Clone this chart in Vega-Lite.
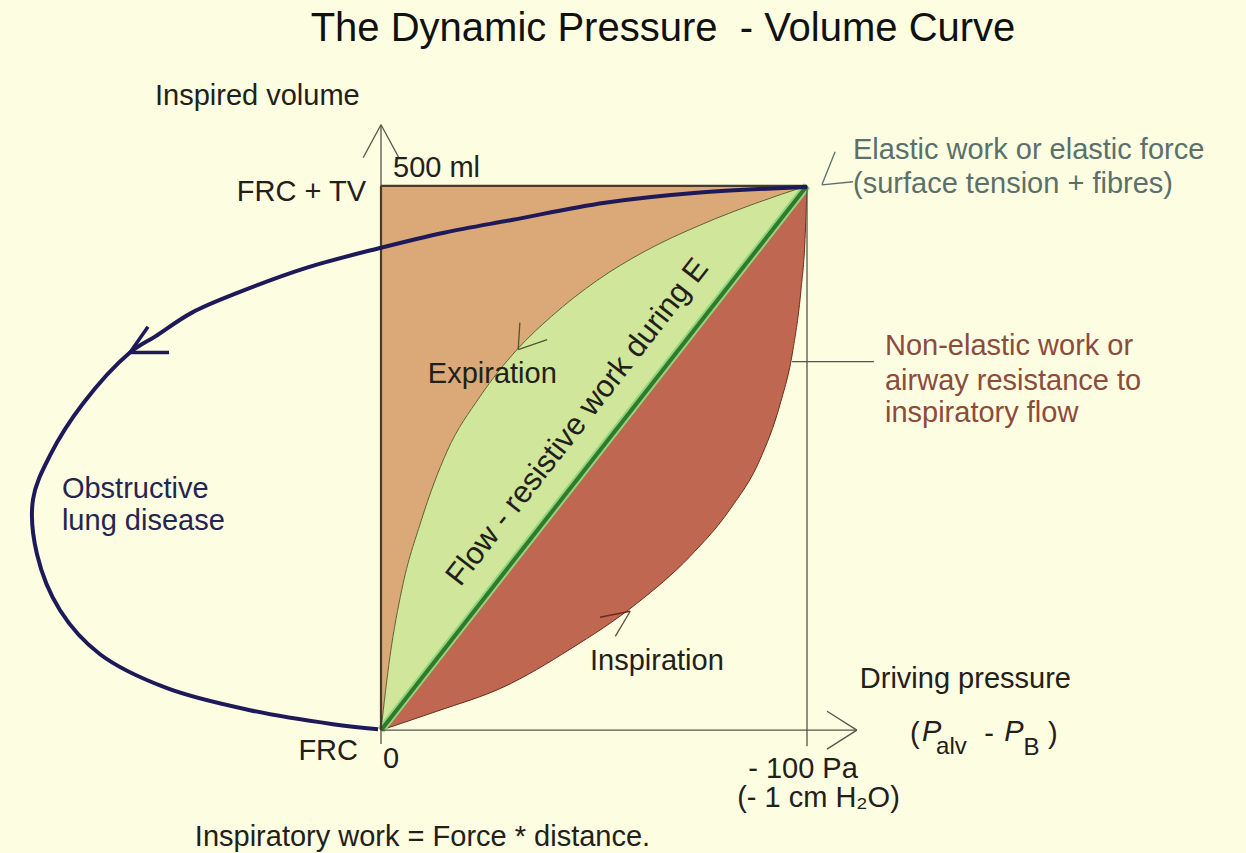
{
  "$schema": "https://vega.github.io/schema/vega-lite/v6.json",
  "width": 1246,
  "height": 853,
  "autosize": {"type": "fit", "contains": "padding"},
  "padding": 0,
  "background": "#FDFDE1",
  "config": {"view": {"stroke": null}, "text": {"font": "Liberation Sans"}},
  "datasets": {
    "exp": [
      {"x": 0, "y": 0, "d": 0},
      {"x": 2.11, "y": 67.9, "d": 10.55},
      {"x": 4.9, "y": 129.4, "d": 24.5},
      {"x": 9.4, "y": 192.0, "d": 47.0},
      {"x": 15.49, "y": 256.0, "d": 77.45},
      {"x": 23.24, "y": 306.4, "d": 116.2},
      {"x": 31.92, "y": 349.5, "d": 159.6},
      {"x": 40.0, "y": 380.0, "d": 200.0},
      {"x": 50.7, "y": 413.0, "d": 253.5},
      {"x": 62.0, "y": 440.0, "d": 310.0},
      {"x": 75.0, "y": 464.0, "d": 375.0},
      {"x": 88.0, "y": 484.0, "d": 440.0},
      {"x": 100, "y": 500, "d": 500}
    ],
    "insp": [
      {"x": 0, "y": 0, "d": 0},
      {"x": 13.15, "y": 17.4, "d": 65.75},
      {"x": 28.64, "y": 39.4, "d": 143.2},
      {"x": 44.37, "y": 74.3, "d": 221.85},
      {"x": 60.09, "y": 116.5, "d": 300.45},
      {"x": 72.54, "y": 159.6, "d": 362.7},
      {"x": 81.92, "y": 202.8, "d": 409.6},
      {"x": 88.97, "y": 248.6, "d": 444.85},
      {"x": 93.66, "y": 299.1, "d": 468.3},
      {"x": 96.71, "y": 349.5, "d": 483.55},
      {"x": 98.59, "y": 404.6, "d": 492.95},
      {"x": 99.53, "y": 450.5, "d": 497.65},
      {"x": 100, "y": 500, "d": 500}
    ],
    "loop": [
      {"i": 1, "x": 100, "y": 498.8},
      {"i": 2, "x": 74.18, "y": 493.6},
      {"i": 3, "x": 52.58, "y": 484.4},
      {"i": 4, "x": 30.99, "y": 468.8},
      {"i": 5, "x": 14.79, "y": 456.9},
      {"i": 6, "x": 0, "y": 443.1},
      {"i": 7, "x": -17.37, "y": 424.8},
      {"i": 8, "x": -33.57, "y": 401.8},
      {"i": 9, "x": -44.37, "y": 383.5},
      {"i": 10, "x": -53.05, "y": 361.5},
      {"i": 11, "x": -58.92, "y": 346.8},
      {"i": 12, "x": -69.95, "y": 300.0},
      {"i": 13, "x": -77.7, "y": 252.3},
      {"i": 14, "x": -81.69, "y": 211.9},
      {"i": 15, "x": -80.75, "y": 161.5},
      {"i": 16, "x": -75.35, "y": 110.1},
      {"i": 17, "x": -65.96, "y": 69.7},
      {"i": 18, "x": -50.23, "y": 38.5},
      {"i": 19, "x": -30.75, "y": 18.3},
      {"i": 20, "x": -11.27, "y": 5.5},
      {"i": 21, "x": -0.7, "y": 0.9}
    ]
  },
  "encoding": {
    "x": {"field": "x", "type": "quantitative", "scale": {"domain": [-89.437, 203.052], "nice": false, "zero": false}, "axis": null},
    "y": {"field": "y", "type": "quantitative", "scale": {"domain": [-111.927, 670.642], "nice": false, "zero": false}, "axis": null}
  },
  "layer": [
    {"data": {"name": "exp"}, "mark": {"type": "area", "color": "#DBA978", "interpolate": "monotone"}, "encoding": {"y2": {"datum": 500}}},
    {"data": {"name": "exp"}, "mark": {"type": "area", "color": "#CFE69B", "interpolate": "monotone"}, "encoding": {"y2": {"field": "d"}}},
    {"data": {"name": "insp"}, "mark": {"type": "area", "color": "#BF6750", "interpolate": "monotone"}, "encoding": {"y2": {"field": "d"}}},
    {"data": {"name": "exp"}, "mark": {"type": "line", "color": "#5E5E34", "strokeWidth": 1, "interpolate": "monotone"}, "encoding": {}},
    {"data": {"name": "insp"}, "mark": {"type": "line", "color": "#6E2A1E", "strokeWidth": 1, "interpolate": "monotone"}, "encoding": {}},
    {
      "data": {"values": [{"x": 0, "y": 0, "x2": 100, "y2": 500}]},
      "mark": {"type": "rule", "color": "#93D57C", "strokeWidth": 8},
      "encoding": {"x2": {"field": "x2"}, "y2": {"field": "y2"}}
    },
    {
      "data": {"values": [{"x": 0, "y": 0, "x2": 100, "y2": 500}]},
      "mark": {"type": "rule", "color": "#2F7A2C", "strokeWidth": 4},
      "encoding": {"x2": {"field": "x2"}, "y2": {"field": "y2"}}
    },
    {
      "data": {"values": [
        {"x": 0, "y": -12.8, "x2": 0, "y2": 556},
        {"x": 0, "y": 556, "x2": -4.2, "y2": 525.7},
        {"x": 0, "y": 556, "x2": 4.2, "y2": 525.7},
        {"x": 0, "y": 0, "x2": 111.7, "y2": 0},
        {"x": 111.7, "y": 0, "x2": 104.7, "y2": 17.4},
        {"x": 111.7, "y": 0, "x2": 104.7, "y2": -17.4},
        {"x": 100, "y": -14.7, "x2": 100, "y2": 500},
        {"x": 96.5, "y": 338.5, "x2": 115.7, "y2": 338.5}
      ]},
      "mark": {"type": "rule", "color": "#55554A", "strokeWidth": 1.3},
      "encoding": {"x2": {"field": "x2"}, "y2": {"field": "y2"}}
    },
    {
      "data": {"values": [
        {"x": 0, "y": 500, "x2": 100, "y2": 500},
        {"x": 0, "y": 0, "x2": 0, "y2": 500}
      ]},
      "mark": {"type": "rule", "color": "#4A3A28", "strokeWidth": 2.2},
      "encoding": {"x2": {"field": "x2"}, "y2": {"field": "y2"}}
    },
    {
      "data": {"name": "loop"},
      "mark": {"type": "line", "color": "#1E1A5A", "strokeWidth": 4, "interpolate": "catmull-rom"},
      "encoding": {"order": {"field": "i", "type": "quantitative"}}
    },
    {
      "data": {"values": [
        {"x": -58.92, "y": 346.8, "x2": -54.69, "y2": 370.6},
        {"x": -58.92, "y": 346.8, "x2": -49.77, "y2": 346.8}
      ]},
      "mark": {"type": "rule", "color": "#1E1A5A", "strokeWidth": 3.5},
      "encoding": {"x2": {"field": "x2"}, "y2": {"field": "y2"}}
    },
    {
      "data": {"values": [
        {"x": 32.2, "y": 349.5, "x2": 32.6, "y2": 374.3},
        {"x": 32.2, "y": 349.5, "x2": 39.0, "y2": 358.7},
        {"x": 58.5, "y": 109.2, "x2": 55.0, "y2": 86.2}
      ]},
      "mark": {"type": "rule", "color": "#5A5238", "strokeWidth": 1.3},
      "encoding": {"x2": {"field": "x2"}, "y2": {"field": "y2"}}
    },
    {
      "data": {"values": [
        {"x": 58.5, "y": 109.2, "x2": 51.4, "y2": 103.7}
      ]},
      "mark": {"type": "rule", "color": "#6E2A1E", "strokeWidth": 1.5},
      "encoding": {"x2": {"field": "x2"}, "y2": {"field": "y2"}}
    },
    {
      "data": {"values": [
        {"x": 103.5, "y": 500.9, "x2": 106.6, "y2": 531.2},
        {"x": 103.5, "y": 500.9, "x2": 110.8, "y2": 503.7}
      ]},
      "mark": {"type": "rule", "color": "#5B6F6B", "strokeWidth": 1.3},
      "encoding": {"x2": {"field": "x2"}, "y2": {"field": "y2"}}
    },
    {
      "data": {"values": [{"x": 66.2, "y": 644.0, "t": "The Dynamic Pressure\u00a0 - Volume Curve"}]},
      "mark": {"type": "text", "fontSize": 40, "align": "center", "baseline": "middle", "color": "#111111"},
      "encoding": {"text": {"field": "t"}}
    },
    {
      "data": {"values": [
        {"x": -53.05, "y": 582.6, "t": "Inspired volume"},
        {"x": 2.82, "y": 516.5, "t": "500 ml"},
        {"x": 11.0, "y": 327.5, "t": "Expiration"},
        {"x": 49.06, "y": 63.3, "t": "Inspiration"},
        {"x": 112.4, "y": 46.8, "t": "Driving pressure"},
        {"x": 0.47, "y": -26.6, "t": "0"},
        {"x": 86.2, "y": -35.3, "t": "- 100 Pa"},
        {"x": 83.6, "y": -62.5, "t": "(- 1 cm H₂O)"},
        {"x": -43.7, "y": -98.2, "t": "Inspiratory work = Force * distance."},
        {"x": 124.2, "y": -3.7, "t": "("},
        {"x": 141.6, "y": -3.7, "t": "-"},
        {"x": 156.6, "y": -3.7, "t": ")"}
      ]},
      "mark": {"type": "text", "fontSize": 29, "align": "left", "baseline": "middle", "color": "#222018"},
      "encoding": {"text": {"field": "t"}}
    },
    {
      "data": {"values": [
        {"x": 127.0, "y": -1.8, "t": "P"},
        {"x": 146.3, "y": -1.8, "t": "P"}
      ]},
      "mark": {"type": "text", "fontSize": 29, "fontStyle": "italic", "align": "left", "baseline": "middle", "color": "#222018"},
      "encoding": {"text": {"field": "t"}}
    },
    {
      "data": {"values": [
        {"x": 130.3, "y": -15.6, "t": "alv"},
        {"x": 150.8, "y": -16.5, "t": "B"}
      ]},
      "mark": {"type": "text", "fontSize": 24, "align": "left", "baseline": "middle", "color": "#222018"},
      "encoding": {"text": {"field": "t"}}
    },
    {
      "data": {"values": [
        {"x": -3.52, "y": 494.5, "t": "FRC + TV"},
        {"x": -5.4, "y": -19.3, "t": "FRC"}
      ]},
      "mark": {"type": "text", "fontSize": 29, "align": "right", "baseline": "middle", "color": "#222018"},
      "encoding": {"text": {"field": "t"}}
    },
    {
      "data": {"values": [
        {"x": 110.8, "y": 533.0, "t": "Elastic work or elastic force"},
        {"x": 110.8, "y": 501.8, "t": "(surface tension + fibres)"}
      ]},
      "mark": {"type": "text", "fontSize": 29, "align": "left", "baseline": "middle", "color": "#5B6F6B"},
      "encoding": {"text": {"field": "t"}}
    },
    {
      "data": {"values": [
        {"x": 118.3, "y": 353.2, "t": "Non-elastic work or"},
        {"x": 118.3, "y": 321.1, "t": "airway resistance to"},
        {"x": 118.3, "y": 291.7, "t": "inspiratory flow"}
      ]},
      "mark": {"type": "text", "fontSize": 29, "align": "left", "baseline": "middle", "color": "#8C4B3B"},
      "encoding": {"text": {"field": "t"}}
    },
    {
      "data": {"values": [
        {"x": -74.9, "y": 221.1, "t": "Obstructive"},
        {"x": -74.9, "y": 191.7, "t": "lung disease"}
      ]},
      "mark": {"type": "text", "fontSize": 29, "align": "left", "baseline": "middle", "color": "#25254F"},
      "encoding": {"text": {"field": "t"}}
    },
    {
      "data": {"values": [{"x": 46.2, "y": 282.6, "t": "Flow - resistive work during E"}]},
      "mark": {"type": "text", "fontSize": 31, "angle": 308, "align": "center", "baseline": "middle", "color": "#222018"},
      "encoding": {"text": {"field": "t"}}
    }
  ]
}
